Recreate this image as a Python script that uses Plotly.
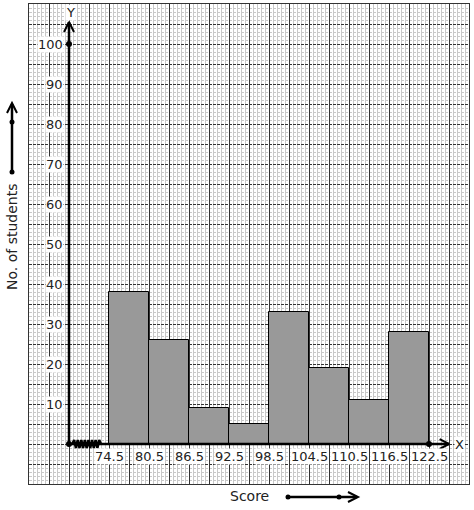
import plotly.graph_objects as go

# ---- data ----
class_bounds = [74.5, 80.5, 86.5, 92.5, 98.5, 104.5, 110.5, 116.5, 122.5]
frequencies = [38, 26, 9, 5, 33, 19, 11, 28]
x_tick_labels = ["74.5", "80.5", "86.5", "92.5", "98.5", "104.5", "110.5", "116.5", "122.5"]
y_tick_values = [10, 20, 30, 40, 50, 60, 70, 80, 90, 100]
y_tick_labels = [str(v) for v in y_tick_values]

X_RANGE = [62.5, 128.5]
Y_RANGE = [-10, 110]
AXIS_X = 68.5
FONT = "DejaVu Sans"

mids = [(a + b) / 2 for a, b in zip(class_bounds[:-1], class_bounds[1:])]
widths = [b - a for a, b in zip(class_bounds[:-1], class_bounds[1:])]

fig = go.Figure()

fig.add_trace(go.Bar(
    x=mids, y=frequencies, width=widths,
    marker=dict(color="#999999", line=dict(color="black", width=1)),
    hoverinfo="x+y", showlegend=False,
))

black_line = dict(color="black", width=2.5)
# Y axis
fig.add_trace(go.Scatter(x=[AXIS_X, AXIS_X], y=[0, 105.5], mode="lines",
                         line=black_line, showlegend=False, hoverinfo="skip"))
fig.add_trace(go.Scatter(x=[AXIS_X - 0.75, AXIS_X, AXIS_X + 0.75], y=[103, 105.5, 103],
                         mode="lines", line=dict(color="black", width=2), showlegend=False, hoverinfo="skip"))
# X axis
x_end = 125.5
fig.add_trace(go.Scatter(x=[AXIS_X, x_end], y=[0, 0], mode="lines",
                         line=black_line, showlegend=False, hoverinfo="skip"))
fig.add_trace(go.Scatter(x=[x_end - 1.4, x_end, x_end - 1.4], y=[1.2, 0, -1.2],
                         mode="lines", line=dict(color="black", width=2), showlegend=False, hoverinfo="skip"))
# zigzag (broken axis)
zx, zy = [], []
n = 16
x0z, x1z = 69.0, 73.3
for i in range(n + 1):
    zx.append(x0z + (x1z - x0z) * i / n)
    zy.append(0 if i in (0, n) else (1.0 if i % 2 else -1.0))
fig.add_trace(go.Scatter(x=zx, y=zy, mode="lines", line=dict(color="black", width=2.5),
                         showlegend=False, hoverinfo="skip"))
# dots
fig.add_trace(go.Scatter(x=[AXIS_X, AXIS_X, class_bounds[-1]], y=[0, y_tick_values[-1], 0],
                         mode="markers", marker=dict(color="black", size=6),
                         showlegend=False, hoverinfo="skip"))

annotations = []
for v, t in zip(class_bounds, x_tick_labels):
    annotations.append(dict(x=v, y=-3, xref="x", yref="y", text=t, showarrow=False,
                            bgcolor="white", borderpad=0,
                            font=dict(family=FONT, size=13, color="#222")))
for v, t in zip(y_tick_values, y_tick_labels):
    annotations.append(dict(x=67.75, y=v, xref="x", yref="y", text=t, showarrow=False,
                            xanchor="right", bgcolor="white", borderpad=0,
                            font=dict(family=FONT, size=13, color="#222")))
annotations.append(dict(x=AXIS_X + 0.2, y=108, xref="x", yref="y", text="Y", showarrow=False,
                        bgcolor="white", borderpad=0, font=dict(family=FONT, size=13, color="#222")))
annotations.append(dict(x=127.1, y=0, xref="x", yref="y", text="X", showarrow=False,
                        bgcolor="white", borderpad=0, font=dict(family=FONT, size=13, color="#222")))

W, H = 474, 510
ML, MR, MT, MB = 29, 5, 4, 26
PW, PH = W - ML - MR, H - MT - MB

def px(x):
    return (x - ML) / PW

def py(y):
    return 1 - (y - MT) / PH

annotations.append(dict(x=px(249), y=py(496), xref="paper", yref="paper", text="Score",
                        xanchor="center", yanchor="middle",
                        showarrow=False, font=dict(family=FONT, size=14, color="#222")))
annotations.append(dict(x=px(12), y=py(237), xref="paper", yref="paper", text="No. of students",
                        xanchor="center", yanchor="middle",
                        textangle=-90, showarrow=False, font=dict(family=FONT, size=14, color="#222")))

shapes = []
lk = dict(color="black", width=2.5)
# left arrow
shapes.append(dict(type="line", xref="paper", yref="paper", x0=px(12), x1=px(12), y0=py(172), y1=py(104), line=lk))
shapes.append(dict(type="path", xref="paper", yref="paper",
                   path=f"M {px(7)} {py(113)} L {px(12)} {py(103)} L {px(17)} {py(113)}",
                   line=dict(color="black", width=2)))
for yy in (172, 122):
    shapes.append(dict(type="circle", xref="paper", yref="paper", x0=px(9.5), x1=px(14.5),
                       y0=py(yy - 2.5), y1=py(yy + 2.5), fillcolor="black", line=dict(color="black", width=0)))
# bottom arrow
shapes.append(dict(type="line", xref="paper", yref="paper", x0=px(288), x1=px(357), y0=py(497), y1=py(497), line=lk))
shapes.append(dict(type="path", xref="paper", yref="paper",
                   path=f"M {px(348)} {py(492)} L {px(358)} {py(497)} L {px(348)} {py(502)}",
                   line=dict(color="black", width=2)))
for xx in (288, 339):
    shapes.append(dict(type="circle", xref="paper", yref="paper", x0=px(xx - 2.5), x1=px(xx + 2.5),
                       y0=py(494.5), y1=py(499.5), fillcolor="black", line=dict(color="black", width=0)))

fig.update_layout(
    width=W, height=H,
    margin=dict(l=ML, r=MR, t=MT, b=MB),
    paper_bgcolor="white", plot_bgcolor="white",
    bargap=0, showlegend=False,
    annotations=annotations, shapes=shapes,
    xaxis=dict(range=X_RANGE, showticklabels=False, ticks="", zeroline=False,
               showgrid=True, tick0=62.5, dtick=3, gridcolor="#333333", gridwidth=1,
               minor=dict(tick0=62.5, dtick=0.6, showgrid=True, gridcolor="#c8c8c8", gridwidth=1),
               showline=True, linecolor="#333333", linewidth=1, mirror=True, fixedrange=True),
    yaxis=dict(range=Y_RANGE, showticklabels=False, ticks="", zeroline=False,
               showgrid=True, tick0=-10, dtick=5, gridcolor="#333333", gridwidth=1, griddash="3px,1px",
               minor=dict(tick0=-10, dtick=1, showgrid=True, gridcolor="#c8c8c8", gridwidth=1),
               showline=True, linecolor="#333333", linewidth=1, mirror=True, fixedrange=True),
)

fig.write_html("out.html", config={"displayModeBar": False})
with open("out.html", "r", encoding="utf-8") as f:
    html = f.read()
html = html.replace("<head>", "<head><style>body{margin:0;}</style>", 1)
with open("out.html", "w", encoding="utf-8") as f:
    f.write(html)
